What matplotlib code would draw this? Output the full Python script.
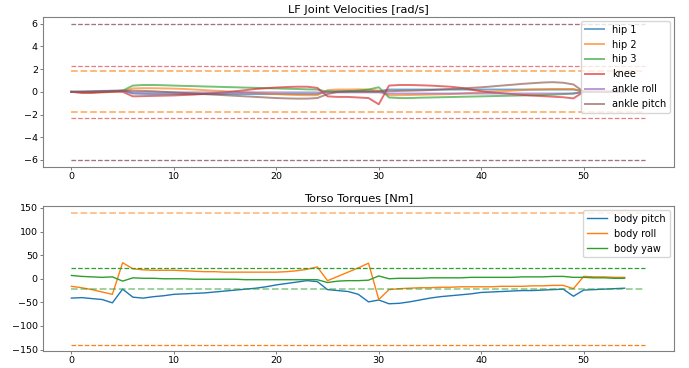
import numpy as np
import matplotlib
matplotlib.use("Agg")
import matplotlib.pyplot as plt

# knot index (one sample per step)
steps = np.arange(55)

# LF joint velocities [rad/s]
hip1 = [0, 0, 0.02, 0.05, 0.08, 0.1,
        -0.15, -0.18, -0.2, -0.2, -0.2, -0.2, -0.2, -0.2, -0.2, -0.2, -0.2, -0.2, -0.2,
        -0.2, -0.2, -0.2, -0.2, -0.2, -0.2,
        0.05, 0.05, 0.05, 0.05, 0.05, 0.05,
        0.2, 0.2, 0.2, 0.2, 0.2, 0.2, 0.2, 0.2, 0.2, 0.2, 0.2, 0.2, 0.2, 0.2, 0.2,
        0.2, 0.2, 0.2, 0.2,
        0.05, 0.03, 0.02, 0.01, 0]
hip2 = [0, -0.05, -0.05, 0, 0.02, 0.05, 0.3, 0.32, 0.32, 0.3, 0.28, 0.25, 0.2, 0.15,
        0.1, 0.05, 0, -0.05, -0.1, -0.15, -0.2, -0.25, -0.28, -0.3, -0.3, 0.15, 0.2,
        0.2, 0.22, 0.2, 0.1, -0.3, -0.3, -0.28, -0.26, -0.24, -0.22, -0.2, -0.15,
        -0.1, -0.05, 0, 0.05, 0.1, 0.15, 0.2, 0.22, 0.25, 0.25, 0.25, 0, 0, 0, 0, 0]
hip3 = [0, 0, 0, 0.02, 0.05, 0.1, 0.55, 0.6, 0.6, 0.58, 0.55, 0.52, 0.5, 0.47, 0.45,
        0.42, 0.4, 0.37, 0.35, 0.32, 0.3, 0.27, 0.25, 0.22, 0.2, 0.0, 0.0, 0.05, 0.1,
        0.2, 0.4, -0.5, -0.55, -0.55, -0.52, -0.5, -0.48, -0.46, -0.44, -0.42, -0.4,
        -0.38, -0.36, -0.34, -0.32, -0.3, -0.28, -0.25, -0.2, -0.15, 0, 0, 0, 0, 0]
knee = [0, -0.1, -0.1, -0.05, 0, 0, -0.4, -0.38, -0.36, -0.34, -0.32, -0.28, -0.24,
        -0.18, -0.12, -0.05, 0.05, 0.15, 0.25, 0.32, 0.38, 0.42, 0.45, 0.45, 0.35,
        -0.4, -0.45, -0.45, -0.5, -0.55, -1.1, 0.55, 0.6, 0.6, 0.58, 0.55, 0.5, 0.45,
        0.35, 0.2, 0.05, -0.05, -0.12, -0.2, -0.27, -0.33, -0.38, -0.43, -0.48, -0.58,
        0, 0, 0, 0, 0]
ankle_roll = [0, 0.02, 0.05, 0.08, 0.1, 0.1,
              -0.05, -0.05, -0.05, -0.05, -0.05, -0.05, -0.05, -0.05, -0.05, -0.05,
              -0.05, -0.05, -0.05, -0.05, -0.05, -0.05, -0.05, -0.05, -0.05,
              -0.05, -0.05, -0.05, -0.05, -0.05, -0.05,
              -0.15, -0.15, -0.15, -0.15, -0.15, -0.15, -0.15, -0.15, -0.15, -0.15,
              -0.15, -0.15, -0.15, -0.15, -0.15, -0.15, -0.15, -0.15, -0.15,
              0, 0, 0, 0, 0]
ankle_pitch = [0, 0, 0, 0.02, 0.05, 0.1, 0.1, 0.08, 0.05, 0, -0.05, -0.1, -0.15, -0.2,
               -0.25, -0.3, -0.35, -0.4, -0.45, -0.5, -0.55, -0.58, -0.6, -0.6, -0.55,
               -0.2, 0, 0.02, 0.02, 0.02, 0.02, 0.05, 0.08, 0.1, 0.12, 0.15, 0.2, 0.25,
               0.3, 0.35, 0.4, 0.47, 0.55, 0.62, 0.7, 0.76, 0.82, 0.85, 0.8, 0.65,
               0, 0, 0, 0, 0]
vel_labels = ["hip 1", "hip 2", "hip 3", "knee", "ankle roll", "ankle pitch"]
# limits shown as dashed lines (None: not drawn separately)
vel_limits = [None, 1.8, None, 2.3, 6.0, 6.0]

# torso torques [Nm]
body_pitch = [-41, -40, -42, -44, -51, -22, -39, -41, -38, -36, -33, -32, -31, -30,
              -28, -26, -24, -22, -20, -17, -13, -10, -7, -4, -6, -23, -25, -27, -33,
              -49, -45, -53, -52, -49, -45, -41, -38, -36, -34, -32, -29, -28, -27,
              -26, -25, -25, -24, -23, -22, -37, -24, -23, -22, -21, -20]
body_roll = [-16, -19, -23, -28, -33, 34, 21, 19, 18, 18, 18, 17, 16, 15, 15, 14, 14,
             14, 14, 14, 14, 15, 17, 20, 25, -4, 5, 14, 23, 33, -44, -23, -21, -20,
             -19, -19, -18, -18, -17, -17, -17, -17, -16, -16, -16, -15, -15, -14,
             -14, -21, 5, 4, 4, 3, 3]
body_yaw = [7, 5, 4, 3, 4, -5, 2, 1, 1, 0, 0, 0, -1, -1, -1, -1, -1, -2, -2, -2, -2,
            -2, -2, -2, -2, -8, -5, -4, -4, -3, 6, 0, 1, 1, 1, 2, 2, 2, 2, 3, 3, 3, 3,
            3, 4, 4, 4, 5, 5, 3, 3, 2, 2, 1, 1]
torque_labels = ["body pitch", "body roll", "body yaw"]

limit_span = [0, 56]
colors = ["C0", "C1", "C2", "C3", "C4", "C5"]

plt.rcParams["font.family"] = "DejaVu Sans"
fig = plt.figure(figsize=(6.89, 3.68), dpi=100)
ax1 = fig.add_axes([0.062, 0.547, 0.916, 0.407])
ax2 = fig.add_axes([0.062, 0.045, 0.916, 0.395])

vels = [hip1, hip2, hip3, knee, ankle_roll, ankle_pitch]
for v, lab, c in zip(vels, vel_labels, colors):
    ax1.plot(steps, v, color=c, lw=1.4, alpha=0.65, label=lab)
for lim, c in zip(vel_limits, colors):
    if lim is None:
        continue
    w = 1.3 if c == "C1" else 0.9
    ax1.plot(limit_span, [lim, lim], "--", color=c, lw=w, alpha=0.6)
    ax1.plot(limit_span, [-lim, -lim], "--", color=c, lw=w, alpha=0.6)
ax1.set_title("LF Joint Velocities [rad/s]", fontsize=8.2, pad=3)

torques = [body_pitch, body_roll, body_yaw]
for t, lab, c in zip(torques, torque_labels, colors):
    ax2.plot(steps, t, color=c, lw=1.0, label=lab)
ax2.plot(limit_span, [140, 140], "--", color="C1", lw=1.3, alpha=0.5)
ax2.plot(limit_span, [-140, -140], "--", color="C1", lw=0.9)
ax2.plot(limit_span, [22, 22], "--", color="C2", lw=0.9)
ax2.plot(limit_span, [-22, -22], "--", color="C2", lw=1.3, alpha=0.5)
ax2.set_title("Torso Torques [Nm]", fontsize=8.2, pad=3)

for ax in (ax1, ax2):
    ax.set_xlim(-2.8, 58.8)
    for s in ax.spines.values():
        s.set_color("0.5")
        s.set_linewidth(0.8)
    ax.tick_params(labelsize=6.8, length=2, width=0.6, color="0.4", pad=1.5)
ax1.set_ylim(-6.6, 6.6)
ax1.set_yticks([-6, -4, -2, 0, 2, 4, 6])
ax2.set_ylim(-154, 154)
ax2.set_yticks([-150, -100, -50, 0, 50, 100, 150])

ax1.legend(loc="upper right", fontsize=7, handlelength=2, borderaxespad=0.4,
           labelspacing=0.5, frameon=True)
ax2.legend(loc="upper right", fontsize=7, handlelength=2, borderaxespad=0.4,
           labelspacing=0.5, frameon=True)

fig.savefig("out.png", dpi=100)
